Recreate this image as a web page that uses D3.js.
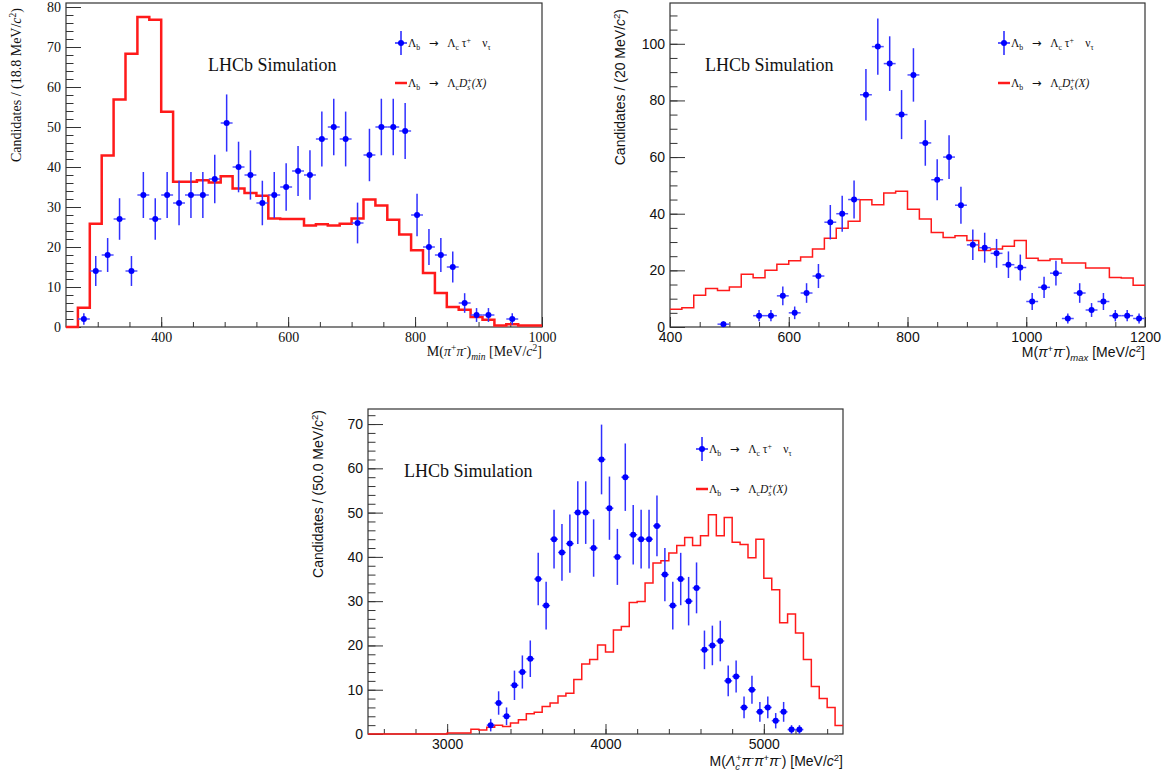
<!DOCTYPE html>
<html>
<head>
<meta charset="utf-8">
<script src="https://cdn.jsdelivr.net/npm/d3@7"></script>
<style>
  body { margin: 0; background: #fff; }
  svg { display: block; }
  text { white-space: pre; }
  .serif text { font-family: "Liberation Serif", "Times New Roman", serif; }
  .sans text { font-family: "Liberation Sans", Arial, Helvetica, sans-serif; }
  text.serif { font-family: "Liberation Serif", "Times New Roman", serif; }
  tspan.arrow { font-family: "DejaVu Sans", sans-serif; }
</style>
</head>
<body>
<svg id="chart" width="1173" height="778"></svg>
<script>
// M(pi+pi-)_min : 40 bins of 18.75 MeV
const minRange = [250, 1000];
const minSignal = [0, 2, 14, 18, 27, 14, 33, 27, 33, 31, 33, 33, 37, 51, 40, 38, 31, 33, 35, 39,
                   38, 47, 50, 47, 26, 43, 50, 50, 49, 28, 20, 18, 15, 6, 3, 3, 0, 2, 0, 0];
const minDs = [0, 4.8, 25.8, 42.9, 56.9, 68.3, 77.5, 76.8, 53.8, 36.3, 36.3, 36.7, 36.1, 37.7, 34.6, 33.5, 32.8, 27.1, 27.0, 27.0,
               25.4, 25.7, 25.4, 25.8, 27.1, 31.9, 30.4, 26.8, 23.1, 19.2, 13.5, 8.5, 5.0, 4.3, 2.5, 1.8, 0.35, 0.7, 0.4, 0.4];
const minXTicks = [400, 600, 800, 1000];
const minYTicks = [0, 10, 20, 30, 40, 50, 60, 70, 80];

// M(pi+pi-)_max : 40 bins of 20 MeV
const maxRange = [400, 1200];
const maxSignal = [0, 0, 0, 0, 1, 0, 0, 4, 4, 11, 5, 12, 18, 37, 40, 45, 82, 99, 93, 75,
                   89, 65, 52, 60, 43, 29, 28, 26, 22, 21, 9, 14, 19, 3, 12, 6, 9, 4, 4, 3];
const maxDs = [6.3, 6.8, 11.2, 13.6, 12.9, 14.1, 18.6, 17.4, 20.0, 22.2, 23.4, 24.7, 27.5, 31.3, 34.9, 37.3, 44.9, 43.2, 47.3, 47.9,
               41.6, 38.1, 33.4, 31.6, 32.2, 30.5, 27.0, 27.5, 28.5, 30.5, 24.3, 23.5, 24.0, 22.6, 22.6, 20.8, 20.8, 17.5, 17.3, 14.7];
const maxXTicks = [400, 600, 800, 1000, 1200];
const maxYTicks = [0, 20, 40, 60, 80, 100];

// M(Lc+ pi- pi+ pi-) : 60 bins of 50 MeV
const lcRange = [2500, 5500];
const lcSignal = [0, 0, 0, 0, 0, 0, 0, 0, 0, 0, 0, 0, 0, 0, 0, 2, 7, 4, 11, 14,
                  17, 35, 29, 44, 41, 43, 50, 50, 42, 62, 51, 40, 58, 45, 44, 44, 47, 36, 29, 35,
                  30, 33, 19, 20, 21, 12, 13, 6, 10, 5, 6, 3, 5, 1, 1, 0, 0, 0, 0, 0];
const lcDs = [0, 0, 0, 0, 0, 0, 0, 0, 0, 0, 0.25, 0.25, 0.25, 1.1, 0.9, 1.5, 2.0, 1.7, 2.5, 3.2,
              4.6, 4.9, 6.2, 7.0, 8.6, 9.2, 12.3, 15.8, 16.8, 20.1, 18.5, 23.5, 24.3, 29.7, 29.9, 34.1, 38.6, 39.1, 40.9, 42.6,
              44.4, 42.6, 44.8, 49.5, 44.8, 48.9, 43.3, 42.8, 39.8, 44.0, 35.2, 32.6, 25.1, 27.1, 22.8, 16.8, 10.7, 8.0, 6.0, 1.9];
const lcXTicks = [3000, 4000, 5000];
const lcYTicks = [0, 10, 20, 30, 40, 50, 60, 70];

const signalLabel = [{t: "Λ"}, {t: "b", sub: true}, {t: "   "}, {t: "→", arrow: true}, {t: "   Λ"}, {t: "c", sub: true},
                     {t: " τ"}, {t: "+", sup: true}, {t: "    ν"}, {t: "τ", sub: true}];
const dsLabel = [{t: "Λ"}, {t: "b", sub: true}, {t: "   "}, {t: "→", arrow: true}, {t: "   Λ"}, {t: "c", sub: true},
                 {t: "D", it: true}, {t: "s", sub: true, it: true}, {t: "+", sup: true, back: 3}, {t: "(X)", it: true}];

const svg = d3.select("#chart");

// write text with italic / sub / superscript pieces
function addRich(text, parts, size) {
    let shift = 0;
    parts.forEach(p => {
        const target = p.sub ? size * 0.3 : p.sup ? -size * 0.38 : 0;
        const fs = (p.sub || p.sup) ? size * 0.68 : size;
        const ts = text.append("tspan")
            .attr("dy", target - shift)
            .attr("class", p.arrow ? "arrow" : null)
            .style("font-size", fs + "px")
            .style("font-style", p.it ? "italic" : null)
            .text(p.t);
        if (p.back) ts.attr("dx", -p.back);
        shift = target;
    });
}

function drawPanel(cfg) {
    const g = svg.append("g").attr("class", cfg.font);
    const nb = cfg.ds.length;
    const bw = (cfg.range[1] - cfg.range[0]) / nb;
    const edge = i => cfg.range[0] + i * bw;

    const x = d3.scaleLinear().domain(cfg.range).range([cfg.x0, cfg.x0 + cfg.w]);
    const y = d3.scaleLinear().domain([0, cfg.yMax]).range([cfg.y0 + cfg.h, cfg.y0]);

    // minor + major ticks, drawn inside the frame
    const tickStyle = s => s.call(a => a.select(".domain").remove())
        .call(a => a.selectAll("line").attr("stroke", "#333"))
        .call(a => a.selectAll("text").style("font-size", "14px").attr("fill", "#111"));

    g.append("g").attr("transform", `translate(${cfg.x0},0)`)
        .call(d3.axisLeft(y).tickValues(cfg.yMinor).tickSize(-7.5).tickFormat(""))
        .call(a => a.selectAll("text").remove())
        .call(tickStyle);
    g.append("g").attr("transform", `translate(${cfg.x0},0)`)
        .call(d3.axisLeft(y).tickValues(cfg.yTicks).tickSize(-15).tickPadding(5).tickFormat(d3.format("d")))
        .call(tickStyle);
    g.append("g").attr("transform", `translate(0,${cfg.y0 + cfg.h})`)
        .call(d3.axisBottom(x).tickValues(cfg.xMinor).tickSize(-5).tickFormat(""))
        .call(a => a.selectAll("text").remove())
        .call(tickStyle);
    g.append("g").attr("transform", `translate(0,${cfg.y0 + cfg.h})`)
        .call(d3.axisBottom(x).tickValues(cfg.xTicks).tickSize(-10).tickPadding(5).tickFormat(d3.format("d")))
        .call(tickStyle);

    g.append("rect")
        .attr("x", cfg.x0).attr("y", cfg.y0)
        .attr("width", cfg.w).attr("height", cfg.h)
        .attr("fill", "none").attr("stroke", "#333").attr("stroke-width", 1.2);

    // Ds background histogram
    const steps = cfg.ds.map((v, i) => [edge(i), v]).concat([[cfg.range[1], cfg.ds[nb - 1]]]);
    g.append("path")
        .attr("d", d3.line().x(d => x(d[0])).y(d => y(d[1])).curve(d3.curveStepAfter)(steps))
        .attr("fill", "none").attr("stroke", "#ff1a1a").attr("stroke-width", cfg.redWidth);

    // signal points with sqrt(N) errors
    const pts = cfg.signal.map((v, i) => ({i, v})).filter(d => d.v > 0);
    const pg = g.append("g");
    pg.selectAll(".ev").data(pts).join("line")
        .attr("x1", d => x(edge(d.i) + bw / 2)).attr("x2", d => x(edge(d.i) + bw / 2))
        .attr("y1", d => y(d.v - Math.sqrt(d.v))).attr("y2", d => y(d.v + Math.sqrt(d.v)))
        .attr("stroke", "#3030ff").attr("stroke-width", 1.5);
    pg.selectAll(".eh").data(pts).join("line")
        .attr("x1", d => x(edge(d.i))).attr("x2", d => x(edge(d.i + 1)))
        .attr("y1", d => y(d.v)).attr("y2", d => y(d.v))
        .attr("stroke", "#5050ff").attr("stroke-width", 1.5);
    pg.selectAll("circle").data(pts).join("circle")
        .attr("cx", d => x(edge(d.i) + bw / 2)).attr("cy", d => y(d.v))
        .attr("r", 3).attr("fill", "#0000ff");

    // axis titles
    const yt = g.append("text")
        .attr("transform", `translate(${cfg.x0 - 45},${cfg.y0 + cfg.yTitleOff}) rotate(-90)`)
        .attr("text-anchor", "end").style("font-size", "14px").attr("fill", "#111");
    addRich(yt, cfg.yTitle, 14);
    const xt = g.append("text")
        .attr("x", cfg.x0 + cfg.w).attr("y", cfg.y0 + cfg.h + cfg.xTitleOff)
        .attr("text-anchor", "end").style("font-size", "14px").attr("fill", "#111");
    addRich(xt, cfg.xTitle, 14);

    // LHCb label
    g.append("text").attr("class", "serif")
        .attr("x", cfg.x0 + cfg.lhcbX).attr("y", cfg.y0 + 68)
        .style("font-size", "18px").attr("fill", "#111")
        .text("LHCb Simulation");

    // legend
    const lx = cfg.x0 + cfg.w - 141;
    const ly = cfg.y0 + 40;
    const lg = g.append("g");
    lg.append("line").attr("x1", lx).attr("x2", lx).attr("y1", ly - 12).attr("y2", ly + 12)
        .attr("stroke", "#2020ff").attr("stroke-width", 1.5);
    lg.append("line").attr("x1", lx - 6).attr("x2", lx + 6).attr("y1", ly).attr("y2", ly)
        .attr("stroke", "#2020ff").attr("stroke-width", 1.5);
    lg.append("circle").attr("cx", lx).attr("cy", ly).attr("r", 3).attr("fill", "#0000ff");
    lg.append("line").attr("x1", lx - 6).attr("x2", lx + 6).attr("y1", ly + 40).attr("y2", ly + 40)
        .attr("stroke", "#ff1a1a").attr("stroke-width", 2.5);
    const t1 = lg.append("text").attr("class", "serif").attr("x", lx + 7).attr("y", ly + 4)
        .style("font-size", "11.5px").attr("fill", "#111");
    addRich(t1, signalLabel, 11.5);
    const t2 = lg.append("text").attr("class", "serif").attr("x", lx + 7).attr("y", ly + 44)
        .style("font-size", "11.5px").attr("fill", "#111");
    addRich(t2, dsLabel, 11.5);
}

const d3range = (a, b, s) => d3.range(a, b + s / 2, s);

drawPanel({
    x0: 66, y0: 3, w: 476, h: 324, yMax: 81, font: "serif", redWidth: 2.5,
    range: minRange, signal: minSignal, ds: minDs,
    xTicks: minXTicks, xMinor: d3range(300, 1000, 50),
    yTicks: minYTicks, yMinor: d3range(0, 80, 2),
    yTitle: [{t: "Candidates / (18.8 MeV/"}, {t: "c", it: true}, {t: "2", sup: true}, {t: ")"}],
    xTitle: [{t: "M("}, {t: "π", it: true}, {t: "+", sup: true}, {t: "π", it: true}, {t: "-", sup: true}, {t: ")"},
             {t: "min", sub: true, it: true}, {t: " [MeV/"}, {t: "c", it: true}, {t: "2", sup: true}, {t: "]"}],
    yTitleOff: 5, xTitleOff: 29, lhcbX: 142
});

drawPanel({
    x0: 670, y0: 3, w: 475, h: 324, yMax: 114.4, font: "sans", redWidth: 1.5,
    range: maxRange, signal: maxSignal, ds: maxDs,
    xTicks: maxXTicks, xMinor: d3range(450, 1200, 50),
    yTicks: maxYTicks, yMinor: d3range(0, 110, 5),
    yTitle: [{t: "Candidates / (20 MeV/"}, {t: "c", it: true}, {t: "2", sup: true}, {t: ")"}],
    xTitle: [{t: "M("}, {t: "π", it: true}, {t: "+", sup: true}, {t: "π", it: true}, {t: "-", sup: true}, {t: ")"},
             {t: "max", sub: true, it: true}, {t: " [MeV/"}, {t: "c", it: true}, {t: "2", sup: true}, {t: "]"}],
    yTitleOff: 6, xTitleOff: 30, lhcbX: 35
});

drawPanel({
    x0: 368, y0: 409, w: 475, h: 325, yMax: 73.4, font: "sans", redWidth: 1.5,
    range: lcRange, signal: lcSignal, ds: lcDs,
    xTicks: lcXTicks, xMinor: d3range(2600, 5400, 200),
    yTicks: lcYTicks, yMinor: d3range(0, 72, 2),
    yTitle: [{t: "Candidates / (50.0 MeV/"}, {t: "c", it: true}, {t: "2", sup: true}, {t: ")"}],
    xTitle: [{t: "M("}, {t: "Λ", it: true}, {t: "c", sub: true, it: true}, {t: "+", sup: true, back: 4},
             {t: "π", it: true}, {t: "-", sup: true}, {t: "π", it: true}, {t: "+", sup: true},
             {t: "π", it: true}, {t: "-", sup: true}, {t: ") [MeV/"}, {t: "c", it: true}, {t: "2", sup: true}, {t: "]"}],
    yTitleOff: 1, xTitleOff: 32, lhcbX: 36
});
</script>
</body>
</html>
